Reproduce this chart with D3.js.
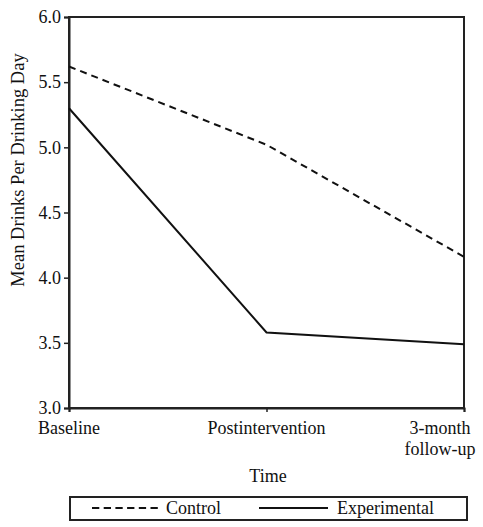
<!DOCTYPE html>
<html><head><meta charset="utf-8">
<script src="https://cdn.jsdelivr.net/npm/d3@7"></script>
<style>body{margin:0;background:#fff}svg{display:block}text{font-family:"Liberation Serif","Times New Roman",serif !important;fill:#111}</style>
</head><body><svg id="c" width="483" height="527"></svg>
<script>
const categories = ["Baseline", "Postintervention", "3-month follow-up"];
const control = [5.62, 5.02, 4.16];
const experimental = [5.30, 3.58, 3.49];
const yTicks = [3.0, 3.5, 4.0, 4.5, 5.0, 5.5, 6.0];
const seriesNames = ["Control", "Experimental"];

const svg = d3.select("#c");
const L = 69, R = 464, T = 17, B = 408;
const x = d3.scalePoint().domain(categories).range([L, R]);
const y = d3.scaleLinear().domain([3, 6]).range([B, T]);

// frame
svg.append("rect").attr("x", L).attr("y", T).attr("width", R - L).attr("height", B - T)
  .attr("fill", "none").attr("stroke", "#222").attr("stroke-width", 2);

// y axis
const ya = svg.append("g").attr("transform", `translate(${L},0)`)
  .call(d3.axisLeft(y).tickValues(yTicks).tickFormat(d3.format(".1f")).tickSize(5).tickPadding(3));
ya.select(".domain").attr("stroke", "#222").attr("stroke-width", 2);
ya.selectAll(".tick line").attr("stroke", "#222").attr("stroke-width", 1.5);
ya.selectAll("text").style("font-size", "18px").attr("fill", "#111");

// x axis
const xa = svg.append("g").attr("transform", `translate(0,${B})`)
  .call(d3.axisBottom(x).tickSize(4).tickFormat(""));
xa.select(".domain").attr("stroke", "#222").attr("stroke-width", 2);
xa.selectAll(".tick line").attr("stroke", "#222").attr("stroke-width", 1.5);

// x tick labels
const labelX = [x(categories[0]), x(categories[1]), x(categories[2]) - 24];
const labelLines = [["Baseline"], ["Postintervention"], ["3-month", "follow-up"]];
labelLines.forEach((lines, i) => {
  lines.forEach((t, j) => {
    svg.append("text").attr("x", labelX[i]).attr("y", 434 + j * 21)
      .attr("text-anchor", "middle").style("font-size", "18px").text(t);
  });
});

// axis titles
svg.append("text").attr("x", 268).attr("y", 482).attr("text-anchor", "middle")
  .style("font-size", "18px").text("Time");
svg.append("text").attr("transform", `translate(24,170) rotate(-90)`)
  .attr("text-anchor", "middle").style("font-size", "18.5px").text("Mean Drinks Per Drinking Day");

// lines
const line = d3.line().x((d, i) => x(categories[i])).y(d => y(d));
svg.append("path").datum(control).attr("d", line).attr("fill", "none")
  .attr("stroke", "#111").attr("stroke-width", 2).attr("stroke-dasharray", "7,5");
svg.append("path").datum(experimental).attr("d", line).attr("fill", "none")
  .attr("stroke", "#111").attr("stroke-width", 2);

// legend
const lg = svg.append("g");
lg.append("rect").attr("x", 70).attr("y", 497).attr("width", 397).attr("height", 23)
  .attr("fill", "none").attr("stroke", "#222").attr("stroke-width", 2);
lg.append("line").attr("x1", 92).attr("x2", 158).attr("y1", 508).attr("y2", 508)
  .attr("stroke", "#111").attr("stroke-width", 2).attr("stroke-dasharray", "7.3,4.4");
lg.append("text").attr("x", 166).attr("y", 514).style("font-size", "18px").text(seriesNames[0]);
lg.append("line").attr("x1", 259).attr("x2", 328).attr("y1", 508).attr("y2", 508)
  .attr("stroke", "#111").attr("stroke-width", 2);
lg.append("text").attr("x", 337).attr("y", 514).style("font-size", "18px").text(seriesNames[1]);
</script></body></html>
